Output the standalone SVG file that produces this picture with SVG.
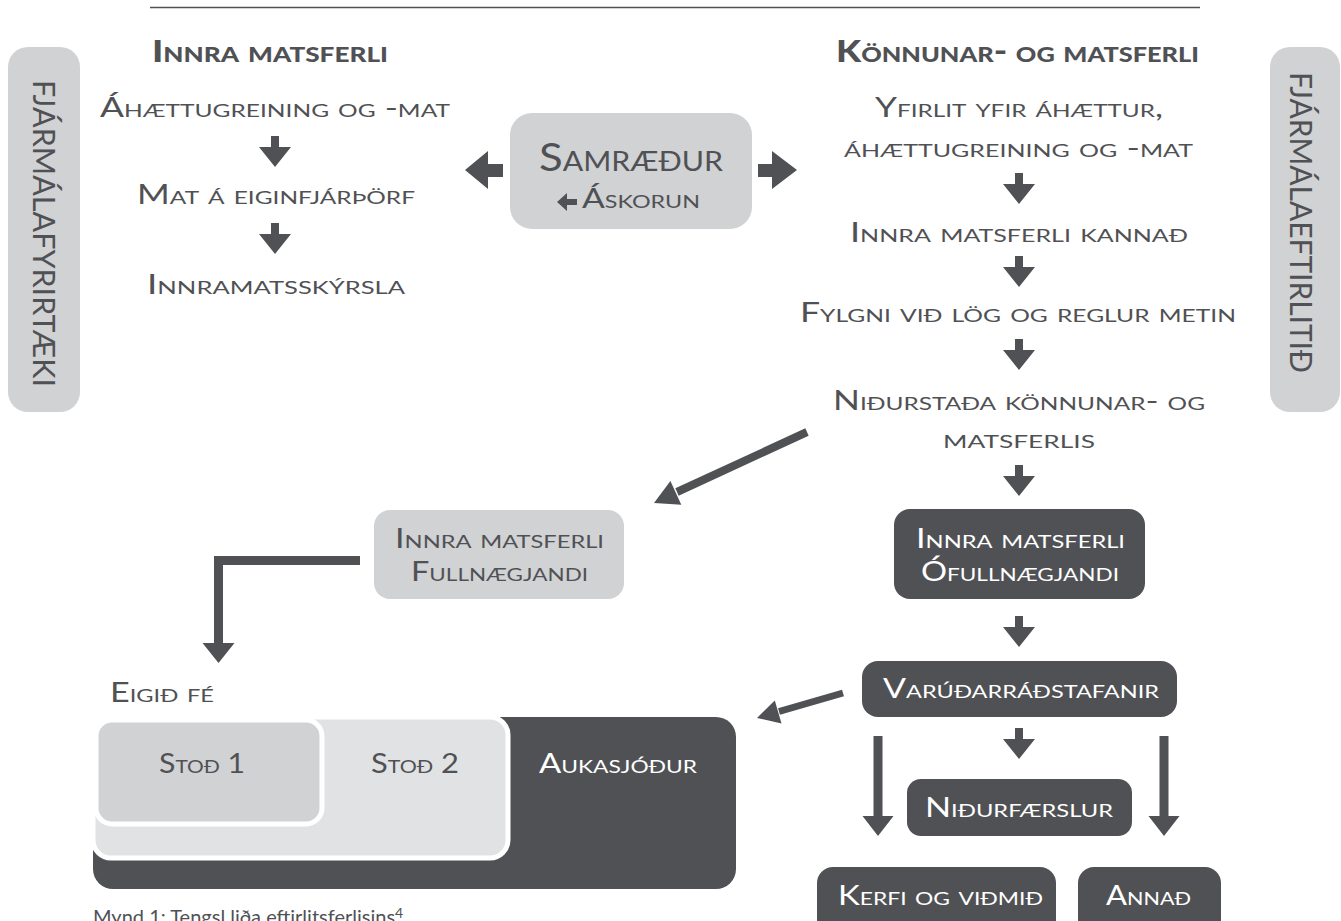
<svg xmlns="http://www.w3.org/2000/svg" xmlns:xlink="http://www.w3.org/1999/xlink" width="1341" height="921" viewBox="0 0 1341 921">
<style>
.t{font-family:Lato,"Open Sans","Liberation Sans",sans-serif;font-size:26px;font-variant:small-caps;fill:#505154}
.w{fill:#ffffff}
.h{font-family:Lato,"Open Sans","Liberation Sans",sans-serif;font-size:30px;font-weight:900;font-variant:small-caps;fill:#505154}
.side{font-family:Lato,"Open Sans","Liberation Sans",sans-serif;font-size:30px;fill:#505154}
.cap{font-family:Lato,"Open Sans","Liberation Sans",sans-serif;font-size:20px;fill:#505154}
.light{fill:#d1d2d4}
.dark{fill:#505154}
.ar{fill:#505154}
.ln{stroke:#505154;fill:none}
</style>
<defs>
<path id="aDown" d="M-4,0 H4 V11 H16 L0,31 L-16,11 H-4 Z"/>
<path id="aLong" d="M-4.5,0 H4.5 V80 H15.5 L0,100 L-15.5,80 H-4.5 Z"/>
</defs>
<rect width="1341" height="921" fill="#ffffff"/>
<line x1="150" y1="7.5" x2="1200" y2="7.5" stroke="#505154" stroke-width="1.5"/>

<g id="side-left">
<rect class="light" x="8" y="47" width="72" height="365" rx="20"/>
<text class="side" transform="translate(33,80) rotate(90)" textLength="307" lengthAdjust="spacingAndGlyphs">FJÁRMÁLAFYRIRTÆKI</text>
</g>
<g id="side-right">
<rect class="light" x="1270" y="47" width="70" height="365" rx="20"/>
<text class="side" transform="translate(1290,72) rotate(90)" textLength="301" lengthAdjust="spacingAndGlyphs">FJÁRMÁLAEFTIRLITIÐ</text>
</g>

<g id="header-left"><text class="h" x="152" y="62" textLength="236" lengthAdjust="spacingAndGlyphs">Innra matsferli</text></g>
<g id="header-right"><text class="h" x="836" y="62" textLength="363" lengthAdjust="spacingAndGlyphs">Könnunar- og matsferli</text></g>

<g id="left-1"><text class="t" x="100" y="117" textLength="350" lengthAdjust="spacingAndGlyphs">Áhættugreining og -mat</text></g>
<g id="left-2"><text class="t" x="137" y="204" textLength="278" lengthAdjust="spacingAndGlyphs">Mat á eiginfjárþörf</text></g>
<g id="left-3"><text class="t" x="147" y="294" textLength="258" lengthAdjust="spacingAndGlyphs">Innramatsskýrsla</text></g>

<g id="samraedur">
<rect class="light" x="510" y="113" width="242" height="116" rx="22"/>
<text class="t" x="539" y="171" style="font-size:39px" textLength="184" lengthAdjust="spacingAndGlyphs">Samræður</text>
<path class="ar" d="M557,202 L567,193 V199 H577 V205 H567 V211 Z"/>
<text class="t" x="582" y="208" textLength="118" lengthAdjust="spacingAndGlyphs">Áskorun</text>
</g>

<g id="right-1"><text class="t" x="875" y="117" textLength="288" lengthAdjust="spacingAndGlyphs">Yfirlit yfir áhættur,</text>
<text class="t" x="844" y="157" textLength="349" lengthAdjust="spacingAndGlyphs">áhættugreining og -mat</text></g>
<g id="right-2"><text class="t" x="850" y="242" textLength="338" lengthAdjust="spacingAndGlyphs">Innra matsferli kannað</text></g>
<g id="right-3"><text class="t" x="800" y="322" textLength="436" lengthAdjust="spacingAndGlyphs">Fylgni við lög og reglur metin</text></g>
<g id="right-4"><text class="t" x="833" y="410" textLength="372" lengthAdjust="spacingAndGlyphs">Niðurstaða könnunar- og</text>
<text class="t" x="943" y="448" textLength="152" lengthAdjust="spacingAndGlyphs">matsferlis</text></g>

<g id="fullnaegjandi">
<rect class="light" x="374" y="510" width="250" height="89" rx="16"/>
<text class="t" x="395" y="548" textLength="209" lengthAdjust="spacingAndGlyphs">Innra matsferli</text>
<text class="t" x="411" y="581" textLength="177" lengthAdjust="spacingAndGlyphs">Fullnægjandi</text>
</g>
<g id="ofullnaegjandi">
<rect class="dark" x="894" y="509" width="251" height="90" rx="16"/>
<text class="t w" x="916" y="548" textLength="209" lengthAdjust="spacingAndGlyphs">Innra matsferli</text>
<text class="t w" x="921" y="581" textLength="198" lengthAdjust="spacingAndGlyphs">Ófullnægjandi</text>
</g>
<g id="varudar">
<rect class="dark" x="862" y="661" width="315" height="56" rx="16"/>
<text class="t w" x="883" y="698" textLength="276" lengthAdjust="spacingAndGlyphs">Varúðarráðstafanir</text>
</g>
<g id="nidurfaerslur">
<rect class="dark" x="907" y="779" width="225" height="57" rx="14"/>
<text class="t w" x="925" y="817" textLength="188" lengthAdjust="spacingAndGlyphs">Niðurfærslur</text>
</g>
<g id="kerfi">
<rect class="dark" x="817" y="867" width="239" height="80" rx="16"/>
<text class="t w" x="838" y="905" textLength="205" lengthAdjust="spacingAndGlyphs">Kerfi og viðmið</text>
</g>
<g id="annad">
<rect class="dark" x="1078" y="867" width="143" height="80" rx="16"/>
<text class="t w" x="1106" y="905" textLength="85" lengthAdjust="spacingAndGlyphs">Annað</text>
</g>

<g id="eigid-fe">
<text class="t" x="110" y="702" textLength="104" lengthAdjust="spacingAndGlyphs">Eigið fé</text>
<rect class="dark" x="93" y="717" width="643" height="172" rx="20"/>
<rect x="93" y="717" width="415" height="141" rx="18" fill="#e1e2e4" stroke="#ffffff" stroke-width="5"/>
<rect class="light" x="96" y="720" width="226" height="104" rx="16" stroke="#ffffff" stroke-width="5"/>
<text class="t" x="159" y="773" textLength="86" lengthAdjust="spacingAndGlyphs">Stoð 1</text>
<text class="t" x="371" y="773" textLength="88" lengthAdjust="spacingAndGlyphs">Stoð 2</text>
<text class="t w" x="539" y="773" textLength="158" lengthAdjust="spacingAndGlyphs">Aukasjóður</text>
</g>

<g id="connectors">
<use href="#aDown" class="ar" x="275" y="136"/>
<use href="#aDown" class="ar" x="275" y="223"/>
<path class="ar" d="M465,170 L488,151 V164 H503 V177 H488 V189 Z"/>
<path class="ar" d="M797,170 L772,151 V164 H758 V177 H772 V189 Z"/>
<use href="#aDown" class="ar" x="1019" y="173"/>
<use href="#aDown" class="ar" x="1019" y="256"/>
<use href="#aDown" class="ar" x="1019" y="339"/>
<use href="#aDown" class="ar" x="1019" y="465"/>
<use href="#aDown" class="ar" x="1019" y="616"/>
<use href="#aDown" class="ar" x="1019" y="728"/>
<use href="#aLong" class="ar" x="878" y="736"/>
<use href="#aLong" class="ar" x="1164" y="736"/>
<line class="ln" x1="807" y1="432" x2="677" y2="492" stroke-width="8"/>
<path class="ar" d="M654,503 L670.4,481.1 L681.3,504.7 Z"/>
<path class="ln" d="M360,560.5 H218.5 V645" stroke-width="9"/>
<path class="ar" d="M202.5,643 H234.5 L218.5,663 Z"/>
<line class="ln" x1="843" y1="693" x2="779" y2="711.5" stroke-width="7"/>
<path class="ar" d="M757,718 L774.8,700.4 L781.5,723.4 Z"/>
</g>

<g id="caption">
<text class="cap" x="93" y="924">Mynd 1: Tengsl liða eftirlitsferlisins<tspan dy="-6" style="font-size:14px">4</tspan></text>
</g>
</svg>
